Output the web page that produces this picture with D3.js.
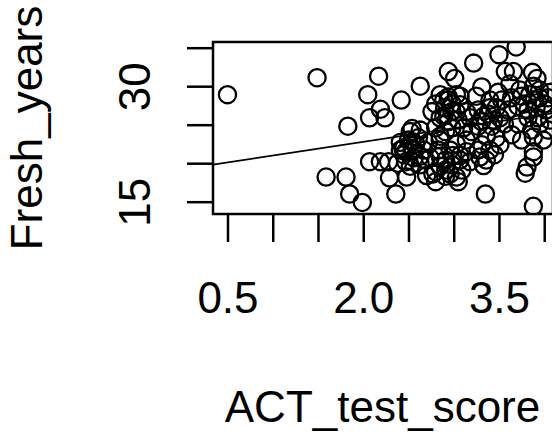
<!DOCTYPE html>
<html>
<head>
<meta charset="utf-8">
<script src="https://d3js.org/d3.v7.min.js"></script>
<style>
    body { margin: 0; background: #fff; }
    svg { display: block; }
    text { font-family: "Liberation Sans", Arial, sans-serif; fill: #000; }
</style>
</head>
<body>
<div id="chart"></div>
<script>
/*global d3*/
// values (x = ACT_test_score, y = Fresh_years)
var actScore = [
    0.50, 1.49, 2.17, 2.05, 2.42, 2.63, 2.19, 2.07, 2.24, 1.83,
    2.94, 3.01, 3.22, 3.50, 3.69, 3.31, 3.57, 3.66, 3.87, 3.92,
    1.59, 1.81, 1.85, 1.99, 2.36, 3.35, 3.88, 2.48, 2.70, 3.79,
    3.81, 3.88, 3.88, 2.07, 2.19, 2.28, 2.29, 2.52, 2.63, 2.44,
    2.55, 2.85, 2.99, 3.07, 2.77, 2.96, 3.03, 3.14, 3.18,
    3.29, 3.33, 2.94, 2.47, 2.54, 2.54,
    2.85, 2.94, 3.03, 2.90, 2.98, 3.07, 2.85, 2.94, 3.05, 2.80,
    3.11, 2.91, 2.76, 3.27, 3.38, 3.47, 3.31, 3.42, 3.51, 3.18,
    3.20, 3.36, 3.73, 3.84, 3.95, 4.04, 3.78, 3.91, 4.02, 3.64,
    3.60, 3.82, 3.71, 3.95, 3.62, 3.49, 3.56, 4.06, 3.64, 3.75,
    3.86, 3.51, 3.45, 2.41, 2.50, 2.61, 2.45, 2.56, 2.67, 2.63,
    2.74, 2.52, 2.38, 2.72, 2.83, 2.91, 2.85, 2.98, 3.09, 2.91,
    3.03, 3.14, 2.80, 3.05, 3.31, 3.40, 3.27, 3.36, 3.47, 3.40,
    3.53, 3.25, 3.14, 3.99, 4.04, 3.93, 3.88, 3.88,
    2.89, 2.98, 2.80, 3.03, 2.89, 2.98, 2.85, 3.07,
    3.75, 3.89, 4.00, 3.82, 3.71, 4.07, 3.95,
    2.45, 2.54, 2.63, 2.47, 2.58, 2.69, 2.41,
    2.85, 2.96, 2.91, 2.80, 3.07,
    3.33, 3.44, 3.27, 3.40
];
var freshYears = [
    28.9, 31.1, 31.3, 28.9, 28.2, 30.0, 27.0, 25.9, 25.9, 24.8,
    31.9, 31.0, 33.0, 34.1, 35.1, 29.9, 31.9, 31.9, 31.8, 31.0,
    18.2, 18.2, 16.0, 14.9, 16.0, 16.0, 14.4, 18.2, 18.4, 18.7,
    19.5, 20.8, 21.5, 20.2, 20.2, 20.2, 18.1, 24.1, 24.3, 21.9,
    21.9, 23.0, 21.0, 21.0, 18.6, 18.6, 18.2, 21.5, 20.2,
    20.8, 19.7, 28.6, 21.5, 22.8, 24.5,
    28.9, 28.2, 28.9, 27.2, 26.7, 27.6, 25.9, 25.4, 25.6, 24.6,
    24.6, 24.1, 26.7, 26.9, 26.4, 27.2, 25.4, 24.8, 25.9, 25.9,
    24.1, 23.5, 29.5, 28.9, 29.5, 28.5, 27.7, 27.2, 26.9, 28.5,
    26.9, 25.9, 25.1, 25.1, 30.3, 29.2, 25.1, 25.6, 23.7, 23.0,
    24.3, 22.4, 21.1, 22.7, 23.0, 23.3, 21.1, 20.7, 21.7, 19.8,
    20.7, 19.6, 20.0, 22.7, 21.7, 20.4, 19.6, 19.8, 19.1, 18.3,
    22.5, 23.0, 17.6, 17.6, 22.4, 21.7, 21.7, 20.4, 23.3, 28.2,
    28.2, 28.7, 26.7, 23.0, 24.3, 25.9, 30.0, 23.4,
    28.2, 27.7, 27.7, 26.6, 26.1, 24.6, 23.5, 28.7,
    28.7, 28.2, 27.7, 26.9, 27.4, 29.2, 28.5,
    22.0, 21.7, 20.9, 20.2, 22.5, 20.4, 21.7,
    20.9, 21.7, 19.1, 18.9, 20.4,
    26.1, 25.6, 24.8, 27.2
];
var xTicks = [0.5, 1.0, 1.5, 2.0, 2.5, 3.0, 3.5, 4.0];
var xTickLabels = ["0.5", "", "", "2.0", "", "", "3.5", ""];
var yTicks = [15, 20, 25, 30, 35];
var yTickLabels = ["15", "", "", "30", ""];
// fitted line: y = a + b * x
var fitCoef = [19.2, 1.78];

(function () {
    "use strict";
    var width = 552,
        height = 433,
        box = {left: 213, right: 553, top: 42, bottom: 214},
        xScale,
        yScale,
        svg,
        plot,
        xAxis,
        yAxis,
        pts;

    xScale = d3.scaleLinear().domain([0.34, 4.097]).range([box.left, box.right]);
    yScale = d3.scaleLinear().domain([13.4, 35.74]).range([box.bottom, box.top]);

    svg = d3.select("#chart").append("svg")
        .attr("width", width)
        .attr("height", height);

    svg.append("clipPath").attr("id", "plotClip")
        .append("rect")
        .attr("x", box.left)
        .attr("y", box.top)
        .attr("width", box.right - box.left)
        .attr("height", box.bottom - box.top);

    plot = svg.append("g").attr("clip-path", "url(#plotClip)");

    //points first, then the fitted line on top
    pts = actScore.map(function (d, i) {
        return {x: d, y: freshYears[i]};
    });
    plot.selectAll("circle").data(pts).enter().append("circle")
        .attr("cx", function (d) { return xScale(d.x); })
        .attr("cy", function (d) { return yScale(d.y); })
        .attr("r", 8.6)
        .attr("fill", "none")
        .attr("stroke", "#000")
        .attr("stroke-width", 2.3);

    plot.append("line")
        .attr("x1", xScale(xScale.domain()[0]))
        .attr("y1", yScale(fitCoef[0] + fitCoef[1] * xScale.domain()[0]))
        .attr("x2", xScale(xScale.domain()[1]))
        .attr("y2", yScale(fitCoef[0] + fitCoef[1] * xScale.domain()[1]))
        .attr("stroke", "#000")
        .attr("stroke-width", 1.7);

    //box round the plot region
    svg.append("rect")
        .attr("x", box.left)
        .attr("y", box.top)
        .attr("width", box.right - box.left)
        .attr("height", box.bottom - box.top)
        .attr("fill", "none")
        .attr("stroke", "#000")
        .attr("stroke-width", 2.5);

    //axes
    xAxis = svg.append("g")
        .attr("transform", "translate(0," + box.bottom + ")")
        .call(d3.axisBottom(xScale)
            .tickValues(xTicks)
            .tickSize(28)
            .tickSizeOuter(0)
            .tickFormat(function (d, i) { return xTickLabels[i]; }));
    xAxis.select(".domain").remove();
    xAxis.selectAll(".tick line").attr("stroke", "#000").attr("stroke-width", 2.5);
    xAxis.selectAll(".tick text")
        .attr("y", 99)
        .attr("dy", 0)
        .attr("font-size", 44)
        .attr("font-family", "Liberation Sans, Arial, sans-serif");

    yAxis = svg.append("g")
        .attr("transform", "translate(" + box.left + ",0)")
        .call(d3.axisLeft(yScale)
            .tickValues(yTicks)
            .tickSize(26)
            .tickSizeOuter(0)
            .tickFormat(function (d, i) { return yTickLabels[i]; }));
    yAxis.select(".domain").remove();
    yAxis.selectAll(".tick line").attr("stroke", "#000").attr("stroke-width", 2.5);
    yAxis.selectAll(".tick text")
        .attr("x", 0)
        .attr("dy", 0)
        .attr("text-anchor", "middle")
        .attr("transform", "translate(-63,0) rotate(-90)")
        .attr("font-size", 44)
        .attr("font-family", "Liberation Sans, Arial, sans-serif");

    //axis titles
    svg.append("text")
        .attr("x", 382.5)
        .attr("y", 422)
        .attr("text-anchor", "middle")
        .attr("font-size", 44)
        .text("ACT_test_score");

    svg.append("text")
        .attr("transform", "translate(42,128) rotate(-90)")
        .attr("text-anchor", "middle")
        .attr("font-size", 44)
        .text("Fresh_years");
}());
</script>
</body>
</html>
